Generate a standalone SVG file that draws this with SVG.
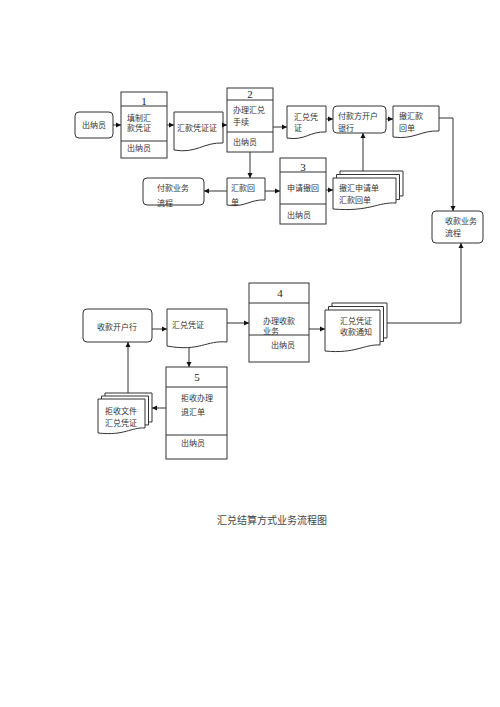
<svg xmlns="http://www.w3.org/2000/svg" width="500" height="707" viewBox="0 0 500 707">
<style>
.s{fill:#fff;stroke:#333;stroke-width:1}
.t{font-family:"Noto Sans CJK SC","Noto Sans",sans-serif;font-size:8px;fill:#333}
.n{font-family:"Liberation Serif",serif;font-size:11px;fill:#222;text-anchor:middle}
.c{fill:none;stroke:#333;stroke-width:1}
.cap{font-family:"Noto Sans CJK SC","Noto Sans",sans-serif;font-size:10px;fill:#444;text-anchor:middle}
</style>
<defs>
<marker id="ah" markerUnits="userSpaceOnUse" markerWidth="6" markerHeight="6" refX="5" refY="3" orient="auto">
<path d="M0,0.5 L5,3 L0,5.5 Z" fill="#111"/>
</marker>
</defs>
<rect width="500" height="707" fill="#fff"/>

<g id="cashier1">
<rect class="s" x="75" y="112" width="38" height="26" rx="4"/>
<text class="t" x="94" y="128" text-anchor="middle">出纳员</text>
</g>

<g id="box1">
<rect class="s" x="121" y="92" width="46" height="66"/>
<line class="c" x1="121" y1="106" x2="167" y2="106"/>
<line class="c" x1="121" y1="141" x2="167" y2="141"/>
<text class="n" x="144" y="105">1</text>
<text class="t" x="127" y="121">填制汇</text>
<text class="t" x="127" y="131">款凭证</text>
<text class="t" x="127" y="151">出纳员</text>
</g>

<g id="doc1">
<path class="s" d="M174,112 H223 V143 C204,142 196,154 174,150 Z"/>
<text class="t" x="177" y="131">汇款凭证证</text>
</g>

<g id="box2">
<rect class="s" x="227" y="88" width="46" height="64"/>
<line class="c" x1="227" y1="100" x2="273" y2="100"/>
<line class="c" x1="227" y1="132" x2="273" y2="132"/>
<text class="n" x="250" y="98">2</text>
<text class="t" x="233" y="113">办理汇兑</text>
<text class="t" x="233" y="125">手续</text>
<text class="t" x="233" y="145">出纳员</text>
</g>

<g id="doc2">
<path class="s" d="M287,106 H326 V132 C310,131 305,141 287,138 Z"/>
<text class="t" x="294" y="120">汇兑凭</text>
<text class="t" x="294" y="131">证</text>
</g>

<g id="payBank">
<rect class="s" x="333" y="106" width="53" height="27" rx="4"/>
<text class="t" x="338" y="119">付款方开户</text>
<text class="t" x="338" y="131">银行</text>
</g>

<g id="doc3">
<path class="s" d="M393,106 H439 V131 C421,130 414,140 393,137 Z"/>
<text class="t" x="399" y="119">撤汇款</text>
<text class="t" x="399" y="131">回单</text>
</g>

<g id="payFlow">
<rect class="s" x="143" y="178" width="61" height="27" rx="4"/>
<text class="t" x="157" y="191">付款业务</text>
<text class="t" x="157" y="206">流程</text>
</g>

<g id="doc4">
<path class="s" d="M227,178 H265 V200 C250,199 245,208 227,205 Z"/>
<text class="t" x="231" y="191">汇款回</text>
<text class="t" x="231" y="205">单</text>
</g>

<g id="box3">
<rect class="s" x="280" y="158" width="46" height="66"/>
<line class="c" x1="280" y1="172" x2="326" y2="172"/>
<line class="c" x1="280" y1="204" x2="326" y2="204"/>
<text class="n" x="303" y="171">3</text>
<text class="t" x="287" y="191">申请撤回</text>
<text class="t" x="287" y="218">出纳员</text>
</g>

<g id="stack1">
<path class="s" d="M340,171 H403 V196 C385,195 378,205 340,202 Z"/>
<path class="s" d="M336.5,174.5 H399.5 V199.5 C381,198.5 374,208.5 336.5,205.5 Z"/>
<path class="s" d="M333,178 H396 V203 C377,202 370,212 333,209 Z"/>
<text class="t" x="339" y="191">撤汇申请单</text>
<text class="t" x="339" y="203">汇款回单</text>
</g>

<g id="recvFlow">
<rect class="s" x="432" y="211" width="51" height="32" rx="4"/>
<text class="t" x="445" y="224">收款业务</text>
<text class="t" x="445" y="236">流程</text>
</g>

<g id="recvBank">
<rect class="s" x="83" y="309" width="69" height="33" rx="4"/>
<text class="t" x="117" y="330" text-anchor="middle">收款开户行</text>
</g>

<g id="doc5">
<path class="s" d="M167,309 H227 V342 C206,340 200,352 167,346 Z"/>
<text class="t" x="172" y="328">汇兑凭证</text>
</g>

<g id="box4">
<rect class="s" x="249" y="283" width="60" height="79"/>
<line class="c" x1="249" y1="303" x2="309" y2="303"/>
<line class="c" x1="249" y1="335" x2="309" y2="335"/>
<text class="n" x="280" y="297">4</text>
<text class="t" x="263" y="324">办理收款</text>
<text class="t" x="263" y="334">业务</text>
<text class="t" x="271" y="348">出纳员</text>
</g>

<g id="stack2">
<path class="s" d="M332,303 H387 V338 C371,337 363,347 332,344 Z"/>
<path class="s" d="M328.5,306.5 H383.5 V341.5 C367,340.5 359,350.5 328.5,347.5 Z"/>
<path class="s" d="M325,310 H380 V345 C364,344 356,354 325,351 Z"/>
<text class="t" x="340" y="324">汇兑凭证</text>
<text class="t" x="340" y="335">收款通知</text>
</g>

<g id="box5">
<rect class="s" x="166" y="367" width="61" height="92"/>
<line class="c" x1="166" y1="387" x2="227" y2="387"/>
<line class="c" x1="166" y1="435" x2="227" y2="435"/>
<text class="n" x="197" y="381">5</text>
<text class="t" x="181" y="401">拒收办理</text>
<text class="t" x="181" y="415">退汇单</text>
<text class="t" x="181" y="446">出纳员</text>
</g>

<g id="stack3">
<path class="s" d="M105,393 H152 V422 C138,421 132,430 105,427 Z"/>
<path class="s" d="M101.5,396 H148.5 V425 C135,424 129,433 101.5,430 Z"/>
<path class="s" d="M98,399 H145 V428 C131,427 125,436 98,433 Z"/>
<text class="t" x="105" y="414">拒收文件</text>
<text class="t" x="105" y="426">汇兑凭证</text>
</g>

<g id="connectors">
<line class="c" x1="113" y1="125" x2="121" y2="125" marker-end="url(#ah)"/>
<line class="c" x1="167" y1="125" x2="174" y2="125" marker-end="url(#ah)"/>
<line class="c" x1="223" y1="125" x2="227" y2="125" marker-end="url(#ah)"/>
<line class="c" x1="273" y1="127" x2="287" y2="127" marker-end="url(#ah)"/>
<line class="c" x1="326" y1="119" x2="333" y2="119" marker-end="url(#ah)"/>
<line class="c" x1="386" y1="119" x2="393" y2="119" marker-end="url(#ah)"/>
<polyline class="c" points="439,118 453,118 453,211" marker-end="url(#ah)"/>
<line class="c" x1="250" y1="152" x2="250" y2="178" marker-end="url(#ah)"/>
<line class="c" x1="227" y1="191" x2="204" y2="191" marker-end="url(#ah)"/>
<line class="c" x1="265" y1="191" x2="280" y2="191" marker-end="url(#ah)"/>
<line class="c" x1="326" y1="190" x2="333" y2="190" marker-end="url(#ah)"/>
<line class="c" x1="363" y1="171" x2="363" y2="133" marker-end="url(#ah)"/>
<line class="c" x1="152" y1="329" x2="167" y2="329" marker-end="url(#ah)"/>
<line class="c" x1="227" y1="323" x2="249" y2="323" marker-end="url(#ah)"/>
<line class="c" x1="309" y1="329" x2="325" y2="329" marker-end="url(#ah)"/>
<polyline class="c" points="387,323 461,323 461,243" marker-end="url(#ah)"/>
<line class="c" x1="189" y1="348" x2="189" y2="367" marker-end="url(#ah)"/>
<line class="c" x1="166" y1="408" x2="152" y2="408" marker-end="url(#ah)"/>
<line class="c" x1="128" y1="393" x2="128" y2="342" marker-end="url(#ah)"/>
</g>

<text class="cap" x="272" y="524">汇兑结算方式业务流程图</text>
</svg>
